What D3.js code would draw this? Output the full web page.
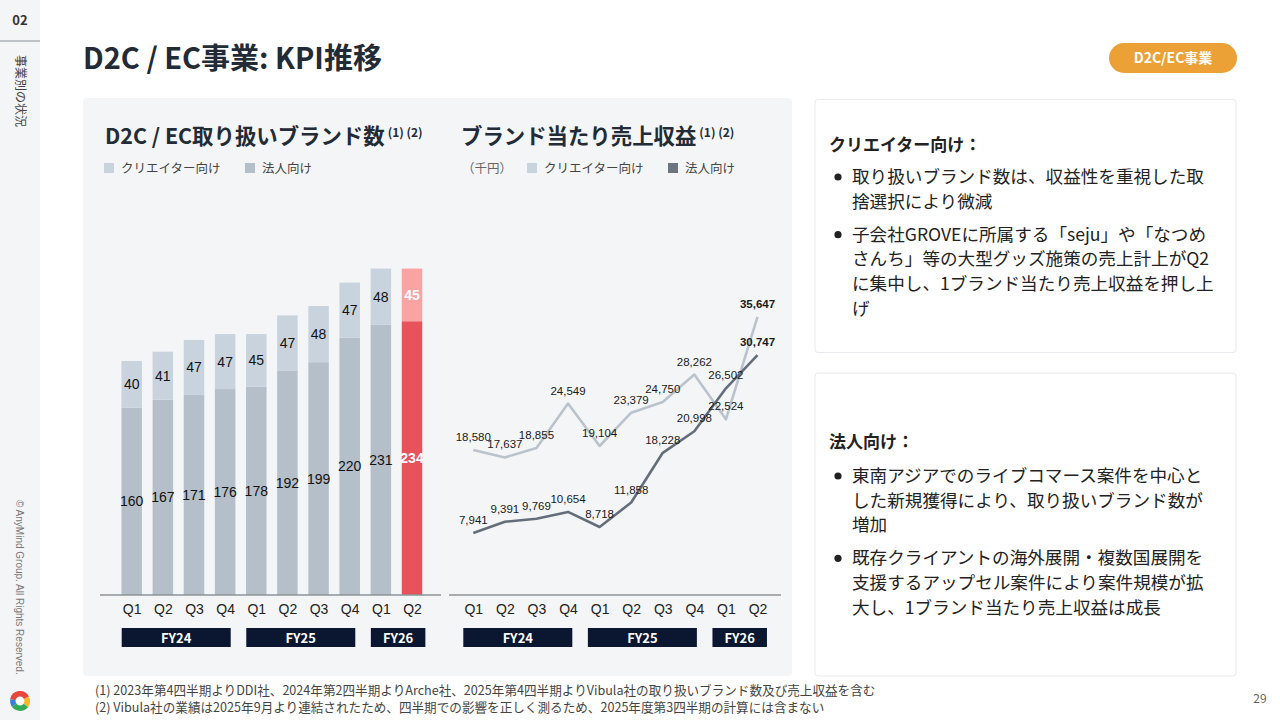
<!DOCTYPE html>
<html lang="ja">
<head>
<meta charset="UTF-8">
<title>D2C / EC事業: KPI推移</title>
<script src="https://d3js.org/d3.v7.min.js"></script>
<style>
  body { margin: 0; background: #fff; }
  svg { display: block; font-family: "Noto Sans CJK JP", "Noto Sans", sans-serif; }
  .num { font-family: "Liberation Sans", Arial, sans-serif; }
</style>
</head>
<body>
<svg width="1280" height="720"></svg>
<script>
// 四半期とブランド数・売上収益
const quarters = ['Q1', 'Q2', 'Q3', 'Q4', 'Q1', 'Q2', 'Q3', 'Q4', 'Q1', 'Q2'];
const fiscalYears = ['FY24', 'FY25', 'FY26'];
const fyQuarterCounts = [4, 4, 2];
const creatorBrands = [40, 41, 47, 47, 45, 47, 48, 47, 48, 45];
const corporateBrands = [160, 167, 171, 176, 178, 192, 199, 220, 231, 234];
const creatorRevenue = [18580, 17637, 18855, 24549, 19104, 23379, 24750, 28262, 22524, 35647];
const corporateRevenue = [7941, 9391, 9769, 10654, 8718, 11858, 18228, 20998, 26502, 30747];

const creatorNotes = [
    ['取り扱いブランド数は、収益性を重視した取', '捨選択により微減'],
    ['子会社GROVEに所属する「seju」や「なつめ', 'さんち」等の大型グッズ施策の売上計上がQ2', 'に集中し、1ブランド当たり売上収益を押し上', 'げ']
];
const corporateNotes = [
    ['東南アジアでのライブコマース案件を中心と', 'した新規獲得により、取り扱いブランド数が', '増加'],
    ['既存クライアントの海外展開・複数国展開を', '支援するアップセル案件により案件規模が拡', '大し、1ブランド当たり売上収益は成長']
];
const footnotes = [
    '(1) 2023年第4四半期よりDDI社、2024年第2四半期よりArche社、2025年第4四半期よりVibula社の取り扱いブランド数及び売上収益を含む',
    '(2) Vibula社の業績は2025年9月より連結されたため、四半期での影響を正しく測るため、2025年度第3四半期の計算には含まない'
];

const svg = d3.select('svg');
const idx = d3.range(quarters.length);
const last = quarters.length - 1;
const fmt = d3.format(',');

// ---- サイドバー ----
svg.append('rect').attr('x', 0).attr('y', 0).attr('width', 40).attr('height', 720).attr('fill', '#f4f5f7');
svg.append('text').attr('x', 20).attr('y', 25).attr('text-anchor', 'middle')
    .attr('font-size', 13).attr('font-weight', 700).attr('fill', '#333').text('02');
svg.append('line').attr('x1', 0).attr('x2', 40).attr('y1', 41).attr('y2', 41)
    .attr('stroke', '#8a8f96').attr('stroke-width', 1);
svg.append('text').attr('transform', 'translate(16,55) rotate(90)')
    .attr('font-size', 12).attr('fill', '#444').text('事業別の状況');
svg.append('text').attr('class', 'num').attr('transform', 'translate(16,500) rotate(90)')
    .attr('font-size', 10).attr('fill', '#777')
    .text('© AnyMind Group. All Rights Reserved.');

const logo = svg.append('g').attr('transform', 'translate(20,701)');
const logoArc = d3.arc().innerRadius(4.5).outerRadius(10);
[['#e8473b', -1.4, 1.1], ['#f5b82e', 1.1, 2.2], ['#35a853', 2.2, 4.1], ['#3b7ddd', 4.1, 4.9]]
    .forEach(([c, a0, a1]) => logo.append('path').attr('d', logoArc({ startAngle: a0, endAngle: a1 })).attr('fill', c));
logo.append('path').attr('d', 'M-4,0L0,-4L4,0L0,4Z').attr('fill', '#fff');

// ---- ヘッダー ----
svg.append('text').attr('x', 83).attr('y', 69)
    .attr('font-size', 29).attr('font-weight', 700).attr('fill', '#222b36')
    .text('D2C / EC事業: KPI推移');
svg.append('rect').attr('x', 1109).attr('y', 43).attr('width', 128).attr('height', 30)
    .attr('rx', 15).attr('fill', '#eba135');
svg.append('text').attr('x', 1173).attr('y', 63).attr('text-anchor', 'middle')
    .attr('font-size', 14).attr('font-weight', 700).attr('fill', '#fff').text('D2C/EC事業');

// ---- グラフパネル ----
svg.append('rect').attr('x', 83).attr('y', 98).attr('width', 709).attr('height', 578)
    .attr('rx', 4).attr('fill', '#f4f5f7');

function chartTitle(x, label) {
    const t = svg.append('text').attr('x', x).attr('y', 144).attr('fill', '#222b36');
    t.append('tspan').attr('font-size', 21.4).attr('font-weight', 700).text(label);
    t.append('tspan').attr('font-size', 12).attr('font-weight', 700).attr('dx', 3).attr('dy', -7).text('(1) (2)');
}

function legendItem(x, color, label) {
    svg.append('rect').attr('x', x).attr('y', 163).attr('width', 10).attr('height', 10).attr('fill', color);
    svg.append('text').attr('x', x + 17).attr('y', 173).attr('font-size', 12.5).attr('fill', '#444').text(label);
}

// 四半期ラベルと年度ボックス（ボックスは棒グラフの配置を基準に shift だけずらす）
function quarterAxis(x, x0, x1, shift) {
    svg.append('line').attr('x1', x0).attr('x2', x1).attr('y1', 595).attr('y2', 595)
        .attr('stroke', '#8d9399').attr('stroke-width', 1.5);
    const ax = svg.append('g').attr('class', 'num').attr('transform', 'translate(0,595)')
        .call(d3.axisBottom(x).tickFormat(i => quarters[i]).tickSize(0).tickPadding(9));
    ax.select('.domain').remove();
    ax.selectAll('text').attr('font-size', 14).attr('fill', '#222').attr('font-family', '"Liberation Sans", Arial, sans-serif');

    const step = xBar.step();
    let start = 0;
    fiscalYears.forEach((fy, k) => {
        const n = fyQuarterCounts[k];
        const bx = xBar(start) - 10 + shift;
        const bw = n * step * 0.875;
        svg.append('rect').attr('x', bx).attr('y', 628).attr('width', bw).attr('height', 19).attr('fill', '#0b1631');
        svg.append('text').attr('x', bx + bw / 2).attr('y', 642.5).attr('text-anchor', 'middle')
            .attr('font-size', 13).attr('font-weight', 700).attr('fill', '#fff').text(fy);
        start += n;
    });
}

// ---- 左: 取り扱いブランド数 (積み上げ棒) ----
chartTitle(105, 'D2C / EC取り扱いブランド数');
legendItem(104, '#c9d3dd', 'クリエイター向け');
legendItem(245, '#b5bfc9', '法人向け');

const xBar = d3.scalePoint().domain(idx).range([131.7, 412]);
const yBar = d3.scaleLinear().domain([0, 280]).range([595, 267.4]);
const barW = 20.5;

const rows = idx.map(i => ({ i, corporate: corporateBrands[i], creator: creatorBrands[i] }));
const stacked = d3.stack().keys(['corporate', 'creator'])(rows);
const barColor = {
    corporate: ['#b5bfc9', '#e8535b'],
    creator: ['#c9d3dd', '#f9a3a3']
};

stacked.forEach(layer => {
    const g = svg.append('g');
    g.selectAll('rect').data(layer).join('rect')
        .attr('x', d => xBar(d.data.i) - barW / 2)
        .attr('y', d => yBar(d[1]))
        .attr('width', barW)
        .attr('height', d => yBar(d[0]) - yBar(d[1]))
        .attr('fill', d => barColor[layer.key][d.data.i === last ? 1 : 0]);
    g.selectAll('text').data(layer).join('text')
        .attr('class', 'num')
        .attr('x', d => xBar(d.data.i))
        .attr('y', d => (yBar(d[0]) + yBar(d[1])) / 2 + 5)
        .attr('text-anchor', 'middle')
        .attr('font-size', 14)
        .attr('font-weight', d => d.data.i === last ? 700 : 400)
        .attr('fill', d => d.data.i === last ? '#fff' : '#111')
        .text(d => d.data[layer.key]);
});
quarterAxis(xBar, 100, 441, 0);

// ---- 右: ブランド当たり売上収益 (折れ線) ----
chartTitle(461, 'ブランド当たり売上収益');
svg.append('text').attr('x', 462).attr('y', 173).attr('font-size', 12.5).attr('fill', '#666').text('（千円）');
legendItem(527, '#c9d3dd', 'クリエイター向け');
legendItem(668, '#6b7480', '法人向け');

const xLine = d3.scalePoint().domain(idx).range([473.3, 757.5]);
const yLine = d3.scaleLinear().domain([0, 36000]).range([595, 314.2]);

const series = [
    { values: creatorRevenue, color: '#bac3cc' },
    { values: corporateRevenue, color: '#646e7a' }
];
const line = d3.line().x(i => xLine(i));

series.forEach(s => {
    svg.append('path')
        .attr('d', line.y(i => yLine(s.values[i]))(idx))
        .attr('fill', 'none').attr('stroke', s.color).attr('stroke-width', 2.6)
        .attr('stroke-linejoin', 'round');
});
series.forEach(s => {
    svg.append('g').selectAll('text').data(idx).join('text')
        .attr('class', 'num')
        .attr('x', i => xLine(i))
        .attr('y', i => yLine(s.values[i]) - 9)
        .attr('text-anchor', 'middle')
        .attr('font-size', 11.5)
        .attr('font-weight', i => i === last ? 700 : 400)
        .attr('fill', '#1a1a1a')
        .text(i => fmt(s.values[i]));
});
quarterAxis(xLine, 449, 781, 341.6);

// ---- コメントパネル ----
function notePanel(y, h, headY, heading, bullets, firstY) {
    svg.append('rect').attr('x', 815).attr('y', y).attr('width', 421).attr('height', h)
        .attr('rx', 3).attr('fill', '#fff').attr('stroke', '#e7e9ec');
    svg.append('text').attr('x', 829).attr('y', headY).attr('font-size', 17)
        .attr('font-weight', 700).attr('fill', '#222').text(heading);
    let ly = firstY;
    bullets.forEach(lines => {
        svg.append('circle').attr('cx', 838).attr('cy', ly - 6).attr('r', 3.6).attr('fill', '#222');
        lines.forEach(t => {
            svg.append('text').attr('x', 852).attr('y', ly).attr('font-size', 17.6)
                .attr('fill', '#222').text(t);
            ly += 24.6;
        });
        ly += 8.5;
    });
}
notePanel(99.5, 253, 151, 'クリエイター向け：', creatorNotes, 183);
notePanel(373, 303, 448, '法人向け：', corporateNotes, 482);

// ---- 脚注 ----
footnotes.forEach((t, k) => {
    svg.append('text').attr('x', 95).attr('y', 695 + k * 17).attr('font-size', 12.6)
        .attr('fill', '#444').text(t);
});
svg.append('text').attr('x', 1260).attr('y', 703).attr('text-anchor', 'middle')
    .attr('font-size', 12).attr('fill', '#666').text('29');
</script>
</body>
</html>
